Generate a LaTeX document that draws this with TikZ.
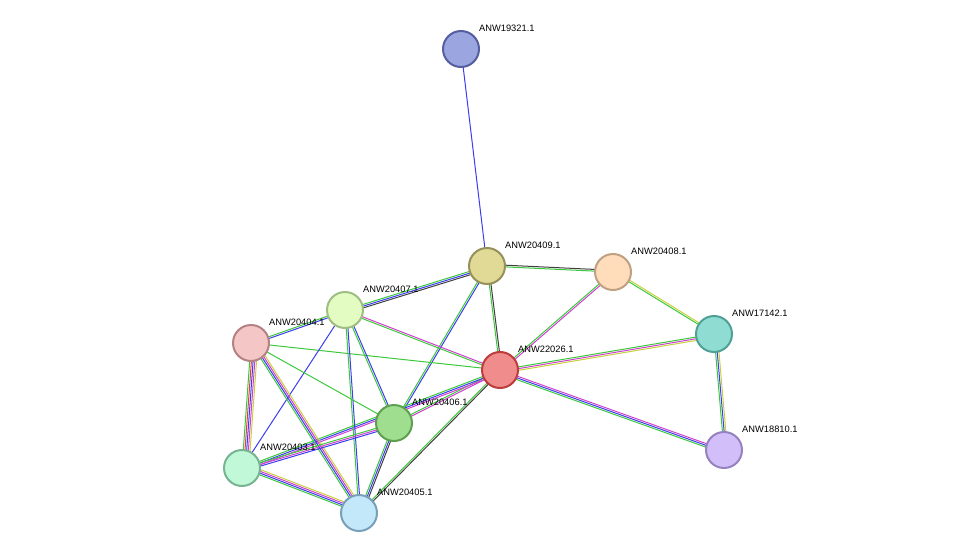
\documentclass[tikz,border=0pt]{standalone}
\usepackage{fontspec}
\setmainfont{Liberation Sans}
\usetikzlibrary{calc}
\definecolor{tmgreen}{HTML}{3CC83C}
\definecolor{cooblue}{HTML}{3C3CF0}
\definecolor{coexp}{HTML}{404040}
\definecolor{expmag}{HTML}{D040D0}
\definecolor{txtyel}{HTML}{C8D040}
\definecolor{fusred}{HTML}{E04040}
\tikzset{
    prot/.style={circle,draw,line width=2pt,minimum size=36pt,inner sep=0pt},
    lbl/.style={anchor=west,font=\fontsize{9.3}{11}\selectfont,inner sep=0pt},
}
% parallel coloured lines between two nodes
\newcommand{\edge}[3]{%
    \foreach \c [count=\i] in {#3}
        {%
            \pgfmathsetmacro{\off}{(\i-1)*1.7}
            \draw[\c,line width=1pt] ($(#1)!\off pt!90:(#2)$) -- ($(#2)!\off pt!-90:(#1)$);
        }
}
\begin{document}
\begin{tikzpicture}[x=1pt,y=-1pt]
    \useasboundingbox (0,0) rectangle (976,559);
    %node positions
    \coordinate (p19321) at (461,49);
    \coordinate (p20409) at (487,266);
    \coordinate (p20408) at (613,272);
    \coordinate (p17142) at (714,334);
    \coordinate (p18810) at (724,450);
    \coordinate (p22026) at (500,370);
    \coordinate (p20407) at (345,310);
    \coordinate (p20404) at (251,343);
    \coordinate (p20406) at (394,423);
    \coordinate (p20403) at (242,468);
    \coordinate (p20405) at (359,513);
    %draw edges
    \edge{p19321}{p20409}{cooblue}
    \edge{p20409}{p20408}{tmgreen,coexp}
    \edge{p20409}{p22026}{tmgreen,coexp}
    \edge{p20409}{p20407}{tmgreen,cooblue,coexp}
    \edge{p20409}{p20406}{tmgreen,cooblue}
    \edge{p20408}{p22026}{tmgreen,expmag}
    \edge{p20408}{p17142}{tmgreen,txtyel}
    \edge{p17142}{p22026}{tmgreen,expmag,txtyel}
    \edge{p17142}{p18810}{tmgreen,cooblue,txtyel}
    \edge{p18810}{p22026}{expmag,cooblue,tmgreen}
    \edge{p22026}{p20407}{expmag,tmgreen}
    \edge{p22026}{p20404}{tmgreen}
    \edge{p22026}{p20406}{tmgreen,expmag}
    \edge{p22026}{p20403}{tmgreen,cooblue,expmag}
    \edge{p22026}{p20405}{tmgreen,coexp}
    \edge{p20407}{p20404}{tmgreen,cooblue}
    \edge{p20407}{p20406}{tmgreen,cooblue}
    \edge{p20407}{p20405}{tmgreen,cooblue}
    \edge{p20407}{p20403}{cooblue}
    \edge{p20404}{p20406}{tmgreen}
    \edge{p20404}{p20403}{tmgreen,fusred,cooblue,expmag,txtyel}
    \edge{p20404}{p20405}{tmgreen,cooblue,expmag,txtyel}
    \edge{p20406}{p20403}{tmgreen,expmag,cooblue}
    \edge{p20406}{p20405}{tmgreen,cooblue,coexp}
    \edge{p20403}{p20405}{tmgreen,cooblue,expmag,txtyel}
    %draw nodes
    \node[prot,fill={rgb,255:red,155;green,165;blue,224},draw={rgb,255:red,85;green,95;blue,160}] (n19321) at (p19321) {};
    \node[prot,fill={rgb,255:red,224;green,218;blue,150},draw={rgb,255:red,150;green,145;blue,90}] (n20409) at (p20409) {};
    \node[prot,fill={rgb,255:red,255;green,221;blue,187},draw={rgb,255:red,190;green,160;blue,130}] (n20408) at (p20408) {};
    \node[prot,fill={rgb,255:red,143;green,221;blue,210},draw={rgb,255:red,80;green,160;blue,150}] (n17142) at (p17142) {};
    \node[prot,fill={rgb,255:red,210;green,190;blue,249},draw={rgb,255:red,150;green,130;blue,190}] (n18810) at (p18810) {};
    \node[prot,fill={rgb,255:red,240;green,140;blue,140},draw={rgb,255:red,190;green,60;blue,60}] (n22026) at (p22026) {};
    \node[prot,fill={rgb,255:red,226;green,252;blue,194},draw={rgb,255:red,160;green,190;blue,130}] (n20407) at (p20407) {};
    \node[prot,fill={rgb,255:red,245;green,198;blue,198},draw={rgb,255:red,180;green,130;blue,130}] (n20404) at (p20404) {};
    \node[prot,fill={rgb,255:red,158;green,222;blue,142},draw={rgb,255:red,95;green,160;blue,80}] (n20406) at (p20406) {};
    \node[prot,fill={rgb,255:red,192;green,248;blue,216},draw={rgb,255:red,120;green,180;blue,145}] (n20403) at (p20403) {};
    \node[prot,fill={rgb,255:red,194;green,232;blue,250},draw={rgb,255:red,120;green,160;blue,185}] (n20405) at (p20405) {};
    %draw labels
    \foreach \n in {19321,20409,20408,17142,18810,22026,20407,20404,20406,20403,20405}
        {%
            \node[lbl] (l\n) at ($(p\n)+(18,-21)$) {ANW\n.1};
        }
\end{tikzpicture}
\end{document}
